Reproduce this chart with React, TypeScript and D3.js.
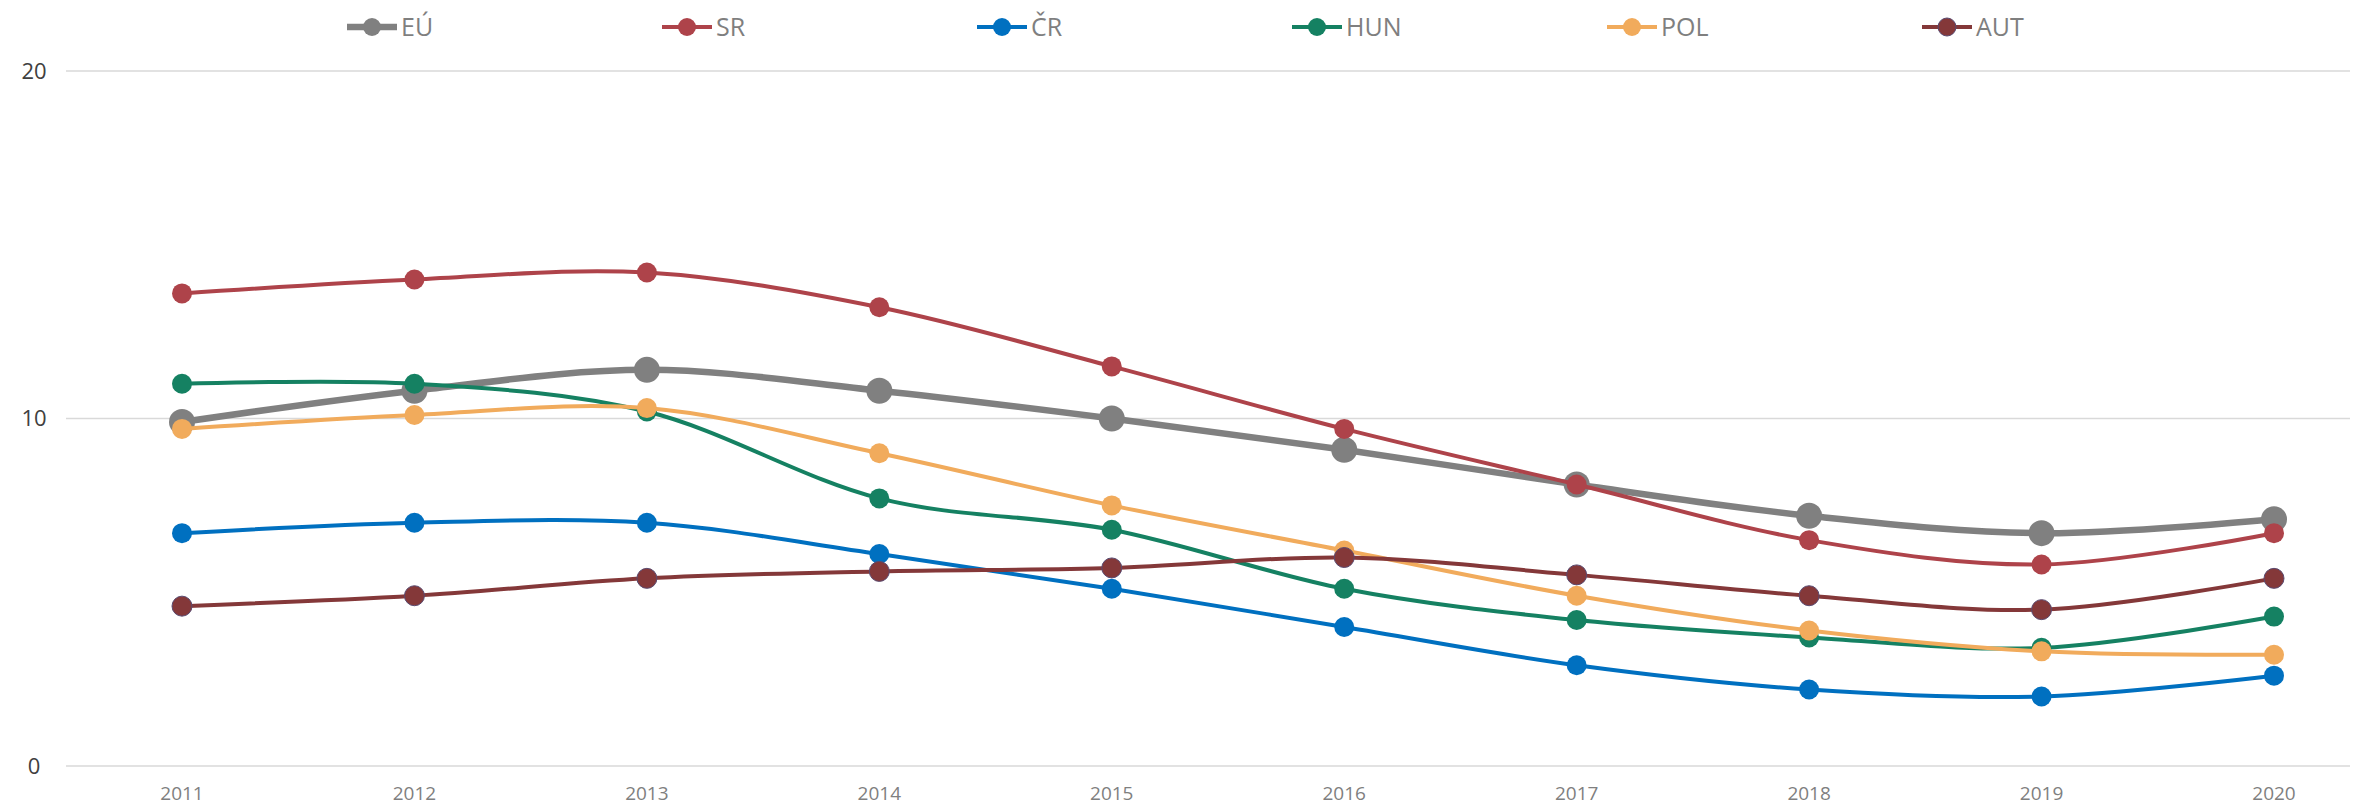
import React, { useRef, useEffect } from 'react';
import * as d3 from 'd3';

const WIDTH = 2374;
const HEIGHT = 805;

const years = ['2011', '2012', '2013', '2014', '2015', '2016', '2017', '2018', '2019', '2020'];
const yTicks = [0, 10, 20];

const euValues  = [9.9, 10.8, 11.4, 10.8, 10.0, 9.1, 8.1, 7.2, 6.7, 7.1];
const srValues  = [13.6, 14.0, 14.2, 13.2, 11.5, 9.7, 8.1, 6.5, 5.8, 6.7];
const crValues  = [6.7, 7.0, 7.0, 6.1, 5.1, 4.0, 2.9, 2.2, 2.0, 2.6];
const hunValues = [11.0, 11.0, 10.2, 7.7, 6.8, 5.1, 4.2, 3.7, 3.4, 4.3];
const polValues = [9.7, 10.1, 10.3, 9.0, 7.5, 6.2, 4.9, 3.9, 3.3, 3.2];
const autValues = [4.6, 4.9, 5.4, 5.6, 5.7, 6.0, 5.5, 4.9, 4.5, 5.4];

const seriesNames = ['EÚ', 'SR', 'ČR', 'HUN', 'POL', 'AUT'];
const seriesColors = ['#808080', '#ae434a', '#0070c0', '#158162', '#f1ab5c', '#843839'];

const FONT = '"Liberation Sans Narrow", "Open Sans", sans-serif';

export default function App() {
  const svgRef = useRef<SVGSVGElement | null>(null);

  useEffect(() => {
    const svg = d3.select(svgRef.current);
    svg.selectAll('*').remove();

    const series = [euValues, srValues, crValues, hunValues, polValues, autValues].map((values, i) => ({
      name: seriesNames[i],
      color: seriesColors[i],
      values,
      thick: i === 0,
    }));

    const x = d3.scalePoint<string>().domain(years).range([182, 2274]);
    const y = d3.scaleLinear().domain([0, 20]).range([766, 71]);

    // gridlines
    svg.append('g')
      .selectAll('line')
      .data(yTicks)
      .join('line')
      .attr('x1', 66).attr('x2', 2350)
      .attr('y1', d => y(d)).attr('y2', d => y(d))
      .attr('stroke', '#d9d9d9')
      .attr('stroke-width', 1.3);

    // y labels
    svg.append('g')
      .selectAll('text')
      .data(yTicks)
      .join('text')
      .attr('x', 34)
      .attr('y', d => y(d))
      .attr('dy', '0.35em')
      .attr('text-anchor', 'middle')
      .attr('fill', '#404040')
      .style('font-family', FONT)
      .style('font-size', '22px')
      .text(d => d);

    // x labels
    svg.append('g')
      .selectAll('text')
      .data(years)
      .join('text')
      .attr('x', d => x(d)!)
      .attr('y', 793)
      .attr('dy', '0.35em')
      .attr('text-anchor', 'middle')
      .attr('fill', '#7f7f7f')
      .style('font-family', FONT)
      .style('font-size', '19px')
      .text(d => d);

    const line = d3.line<number>()
      .x((_, i) => x(years[i])!)
      .y(d => y(d))
      .curve(d3.curveCardinal.tension(0));

    series.forEach(s => {
      const g = svg.append('g');
      g.append('path')
        .attr('d', line(s.values))
        .attr('fill', 'none')
        .attr('stroke', s.color)
        .attr('stroke-width', s.thick ? 6.5 : 4)
        .attr('stroke-linecap', 'round');
      g.selectAll('circle')
        .data(s.values)
        .join('circle')
        .attr('cx', (_, i) => x(years[i])!)
        .attr('cy', d => y(d))
        .attr('r', s.thick ? 13 : 10)
        .attr('fill', s.color)
        .attr('stroke', s.name === 'AUT' ? '#5a4a70' : 'none')
        .attr('stroke-width', 1);
    });

    // legend
    const legendX = d3.scalePoint<string>().domain(seriesNames).range([372, 1947]);
    const legend = svg.append('g')
      .selectAll('g')
      .data(series)
      .join('g')
      .attr('transform', d => `translate(${legendX(d.name)},27)`);

    legend.append('line')
      .attr('x1', -25).attr('x2', 25)
      .attr('stroke', d => d.color)
      .attr('stroke-width', d => (d.thick ? 6.5 : 4));
    legend.append('circle')
      .attr('r', 9)
      .attr('fill', d => d.color)
      .attr('stroke', d => (d.name === 'AUT' ? '#5a4a70' : 'none'));
    legend.append('text')
      .attr('x', 29)
      .attr('dy', '0.35em')
      .attr('fill', '#7f7f7f')
      .style('font-family', FONT)
      .style('font-size', '25px')
      .text(d => d.name);
  }, []);

  return (
    <svg
      ref={svgRef}
      width={WIDTH}
      height={HEIGHT}
      style={{ position: 'absolute', left: 0, top: 0, display: 'block', background: '#fff' }}
    />
  );
}
